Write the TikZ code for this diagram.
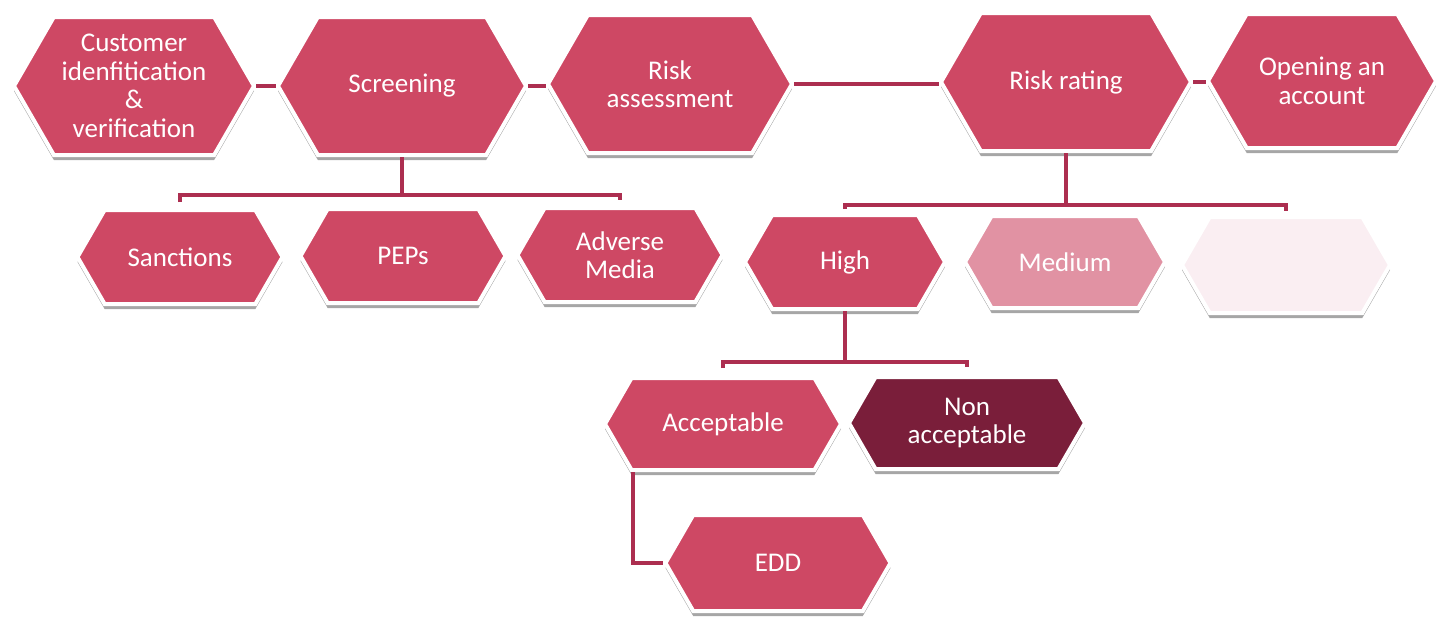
\documentclass[tikz,border=0pt]{standalone}
\usepackage{fontspec}
\setmainfont{Carlito}
\usetikzlibrary{shapes.symbols,shadows}
\definecolor{hexred}{RGB}{206,72,100}
\definecolor{hexpale}{RGB}{225,146,163}
\definecolor{hexfaint}{RGB}{250,238,242}
\definecolor{hexdark}{RGB}{122,30,58}
\definecolor{linkred}{RGB}{172,46,80}
\tikzset{
    hexnode/.style={signal, signal to=west and east, signal pointer angle=120,
        fill=hexred, draw=white, line width=4pt, text=white, align=center,
        inner sep=0pt, font=\fontsize{27}{28.5}\selectfont,
        drop shadow={shadow xshift=0pt, shadow yshift=-5pt, fill=black!35, opacity=1}},
    link/.style={draw=linkred, line width=3.5pt}
}
\begin{document}
\begin{tikzpicture}[x=1pt,y=-1pt]
    \useasboundingbox (0,0) rectangle (1437,622);
    % top row
    \node[hexnode, minimum width=240, minimum height=138] (cust) at (134,86) {Customer\\idenfitication\\\&\\verification};
    \node[hexnode, minimum width=248, minimum height=138] (scr) at (402,86) {Screening};
    \node[hexnode, minimum width=244, minimum height=138] (rass) at (670,84) {Risk\\assessment};
    \node[hexnode, minimum width=250, minimum height=138] (rrat) at (1066,82) {Risk rating};
    \node[hexnode, minimum width=228, minimum height=134] (open) at (1322,81) {Opening an\\account};
    % second row
    \node[hexnode, minimum width=205, minimum height=94] (sanc) at (180,257) {Sanctions};
    \node[hexnode, minimum width=205, minimum height=94] (peps) at (403,256) {PEPs};
    \node[hexnode, minimum width=205, minimum height=94] (adv) at (620,255) {Adverse\\Media};
    \node[hexnode, minimum width=200, minimum height=94] (high) at (845,262) {High};
    \node[hexnode, fill=hexpale, minimum width=200, minimum height=92] (med) at (1065,262) {Medium};
    \node[hexnode, fill=hexfaint, minimum width=208, minimum height=96] (low) at (1286,265) {};
    % third row
    \node[hexnode, minimum width=236, minimum height=92] (acc) at (723,424) {Acceptable};
    \node[hexnode, fill=hexdark, minimum width=236, minimum height=92] (nacc) at (967,423) {Non\\acceptable};
    \node[hexnode, minimum width=225, minimum height=96] (edd) at (778,563) {EDD};

    \draw[link] (cust.east) -- (cust.east -| scr.west);
    \draw[link] (scr.east) -- (scr.east -| rass.west);
    \draw[link] (rass.east) -- (rass.east -| rrat.west);
    \draw[link] (rrat.east) -- (rrat.east -| open.west);

    \coordinate (scrbus) at (402,195);
    \draw[link] (scr.south) -- (scrbus);
    \draw[link] ([yshift=6pt]sanc.north) |- (scrbus) -| ([yshift=6pt]adv.north);

    \coordinate (ratbus) at (1066,205);
    \draw[link] (rrat.south) -- (ratbus);
    \draw[link] ([yshift=4pt]high.north) |- (ratbus) -| ([yshift=4pt]low.north);

    \coordinate (highbus) at (845,362);
    \draw[link] (high.south) -- (highbus);
    \draw[link] ([yshift=8pt]acc.north) |- (highbus) -| ([yshift=8pt]nacc.north);

    \draw[link] ([xshift=-90pt]acc.south) |- (edd.west);
\end{tikzpicture}
\end{document}
